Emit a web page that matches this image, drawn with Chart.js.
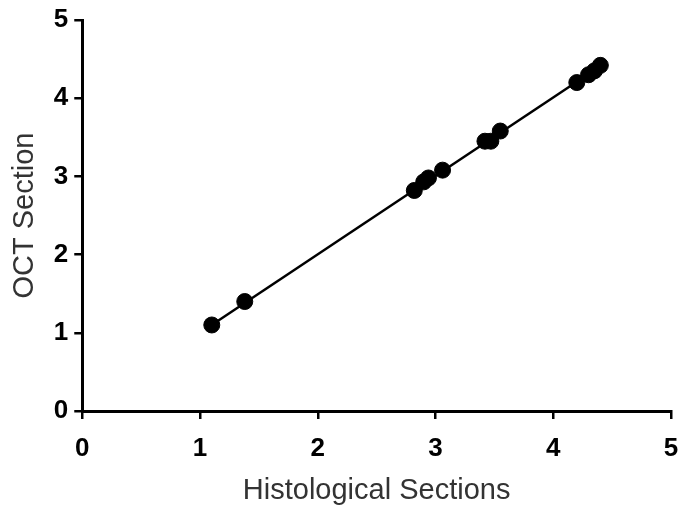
<!DOCTYPE html>
<html>
<head>
<meta charset="utf-8">
<script src="https://cdn.jsdelivr.net/npm/chart.js@4/dist/chart.umd.min.js"></script>
<style>
  html, body { margin: 0; padding: 0; background: #fff; }
  #wrap { width: 680px; height: 509px; }
</style>
</head>
<body>
<div id="wrap"><canvas id="chart"></canvas></div>
<script>
// Data
const histoValues = [1.10, 1.38, 2.82, 2.90, 2.94, 3.06, 3.42, 3.47, 3.55, 4.20, 4.30, 4.35, 4.40];
const octValues = [1.10, 1.40, 2.82, 2.93, 2.98, 3.08, 3.45, 3.45, 3.58, 4.20, 4.30, 4.35, 4.42];
const fitX = [1.08, 4.42];
const fitY = [1.08, 4.43];
const tickValues = [0, 1, 2, 3, 4, 5];

// Points
const points = histoValues.map(function (x, i) { return { x: x, y: octValues[i] }; });
const fitLine = fitX.map(function (x, i) { return { x: x, y: fitY[i] }; });

// Axis Style
const axisStyle = function (title, tickPad, titlePad, fixPadding) {
    return {
        type: 'linear',
        min: 0,
        max: 5,
        afterBuildTicks: function (axis) { axis.ticks = tickValues.map(function (v) { return { value: v }; }); },
        afterFit: fixPadding,
        border: { color: '#000', width: 3 },
        grid: { display: true, drawOnChartArea: false, drawTicks: true, tickLength: 8, color: '#000', lineWidth: 2.5 },
        ticks: { color: '#000', padding: tickPad, font: { family: 'Liberation Sans', size: 26, weight: 'bold' } },
        title: { display: true, text: title, color: '#333', padding: titlePad, font: { family: 'Liberation Sans', size: 29 } }
    };
};

// Create Chart
const ctx = document.getElementById('chart').getContext('2d');
new Chart(ctx, {
    type: 'scatter',
    data: {
        datasets: [
            {
                data: fitLine,
                showLine: true,
                borderColor: '#000',
                borderWidth: 2.5,
                pointRadius: 0,
                order: 2
            },
            {
                data: points,
                backgroundColor: '#000',
                borderColor: '#000',
                pointRadius: 8,
                order: 1
            }
        ]
    },
    options: {
        responsive: true,
        maintainAspectRatio: false,
        animation: false,
        layout: { padding: { top: 0, right: 0, left: 8, bottom: 1 } },
        plugins: { legend: { display: false }, tooltip: { enabled: false } },
        scales: {
            x: axisStyle('Histological Sections', 14, { top: -5, bottom: 0 }, function (s) { s.paddingLeft = 0; s.paddingRight = 9; }),
            y: axisStyle('OCT Section', 6, { top: 0, bottom: 5 }, function (s) { s.paddingTop = 20; s.paddingBottom = 0; })
        }
    }
});
</script>
</body>
</html>
